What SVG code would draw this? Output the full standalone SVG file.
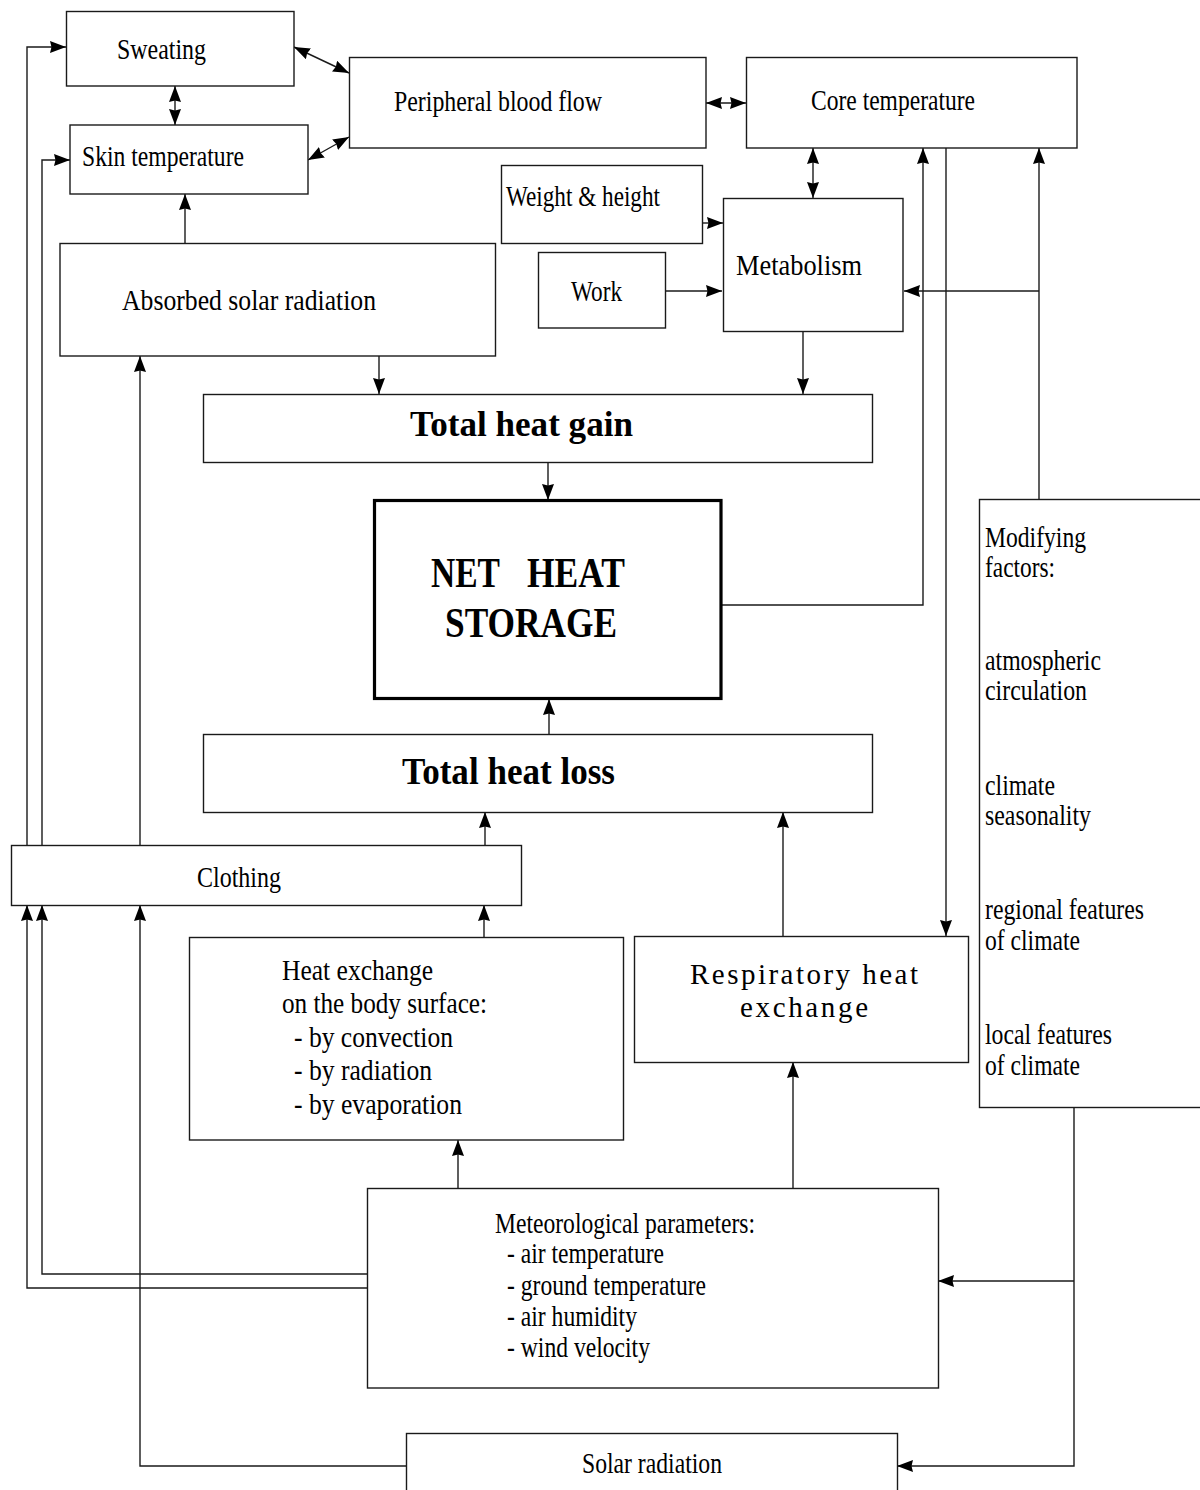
<svg xmlns="http://www.w3.org/2000/svg" width="1200" height="1490" viewBox="0 0 1200 1490">
<style>
.box{fill:#fff;stroke:#1a1a1a;stroke-width:1.4}
.thick{fill:#fff;stroke:#000;stroke-width:3.2}
.t{font-family:"Liberation Serif","Times New Roman",serif;font-size:29px;fill:#000}
.b{font-family:"Liberation Serif","Times New Roman",serif;font-weight:bold;fill:#000}
.c{fill:none;stroke:#1a1a1a;stroke-width:1.4}
</style>
<defs>
<marker id="ah" viewBox="0 0 16 12" refX="16" refY="6" markerWidth="16" markerHeight="12" markerUnits="userSpaceOnUse" orient="auto-start-reverse">
<path d="M0,0 L16,6 L0,12 L1.5,6 z" fill="#000"/>
</marker>
</defs>
<rect width="1200" height="1490" fill="#fff"/>

<g id="connectors">
<path class="c" d="M294,47 L349,73" marker-start="url(#ah)" marker-end="url(#ah)"/>
<path class="c" d="M175,86 L175,125" marker-start="url(#ah)" marker-end="url(#ah)"/>
<path class="c" d="M308,160 L349,137" marker-start="url(#ah)" marker-end="url(#ah)"/>
<path class="c" d="M706,103 L746,103" marker-start="url(#ah)" marker-end="url(#ah)"/>
<path class="c" d="M813,148 L813,198" marker-start="url(#ah)" marker-end="url(#ah)"/>
<path class="c" d="M702,223 L723,223" marker-end="url(#ah)"/>
<path class="c" d="M665,291 L722,291" marker-end="url(#ah)"/>
<path class="c" d="M1039,291 L904,291" marker-end="url(#ah)"/>
<path class="c" d="M1039,499 L1039,148" marker-end="url(#ah)"/>
<path class="c" d="M721,605 L923,605 L923,148" marker-end="url(#ah)"/>
<path class="c" d="M946,148 L946,936" marker-end="url(#ah)"/>
<path class="c" d="M185,243 L185,194" marker-end="url(#ah)"/>
<path class="c" d="M379,356 L379,394" marker-end="url(#ah)"/>
<path class="c" d="M803,331 L803,394" marker-end="url(#ah)"/>
<path class="c" d="M548,462 L548,500" marker-end="url(#ah)"/>
<path class="c" d="M549,734 L549,699" marker-end="url(#ah)"/>
<path class="c" d="M485,845 L485,812" marker-end="url(#ah)"/>
<path class="c" d="M783,936 L783,812" marker-end="url(#ah)"/>
<path class="c" d="M27,845 L27,47 L66,47" marker-end="url(#ah)"/>
<path class="c" d="M42,845 L42,160 L70,160" marker-end="url(#ah)"/>
<path class="c" d="M140,845 L140,356" marker-end="url(#ah)"/>
<path class="c" d="M484,937 L484,905" marker-end="url(#ah)"/>
<path class="c" d="M367,1274 L42,1274 L42,905" marker-end="url(#ah)"/>
<path class="c" d="M367,1288 L27,1288 L27,905" marker-end="url(#ah)"/>
<path class="c" d="M406,1466 L140,1466 L140,905" marker-end="url(#ah)"/>
<path class="c" d="M458,1188 L458,1140" marker-end="url(#ah)"/>
<path class="c" d="M793,1188 L793,1062" marker-end="url(#ah)"/>
<path class="c" d="M1074,1107 L1074,1466 L897,1466" marker-end="url(#ah)"/>
<path class="c" d="M1074,1281 L938,1281" marker-end="url(#ah)"/>
</g>

<g id="sweating"><rect class="box" x="66.5" y="11.5" width="227.5" height="74.5"/>
<text class="t" x="117" y="59" font-size="32" textLength="89" lengthAdjust="spacingAndGlyphs">Sweating</text></g>

<g id="skin-temperature"><rect class="box" x="70" y="125" width="238" height="69"/>
<text class="t" x="82" y="166" font-size="30" textLength="162" lengthAdjust="spacingAndGlyphs">Skin temperature</text></g>

<g id="peripheral-blood-flow"><rect class="box" x="349.5" y="57.5" width="356.5" height="90.5"/>
<text class="t" x="394" y="111" font-size="30" textLength="208" lengthAdjust="spacingAndGlyphs">Peripheral blood flow</text></g>

<g id="core-temperature"><rect class="box" x="746.5" y="57.5" width="330.5" height="90.5"/>
<text class="t" x="811" y="110" font-size="30" textLength="164" lengthAdjust="spacingAndGlyphs">Core temperature</text></g>

<g id="weight-height"><rect class="box" x="501.5" y="165.5" width="201" height="78"/>
<text class="t" x="506" y="206" font-size="29" textLength="154" lengthAdjust="spacingAndGlyphs">Weight &amp; height</text></g>

<g id="metabolism"><rect class="box" x="723.5" y="198.5" width="179.5" height="133"/>
<text class="t" x="736" y="275" font-size="33" textLength="126" lengthAdjust="spacingAndGlyphs">Metabolism</text></g>

<g id="work"><rect class="box" x="538.5" y="252.5" width="127" height="75.5"/>
<text class="t" x="571" y="301" font-size="29" textLength="51" lengthAdjust="spacingAndGlyphs">Work</text></g>

<g id="absorbed-solar-radiation"><rect class="box" x="60" y="243.5" width="435.5" height="112.5"/>
<text class="t" x="122" y="310" font-size="29" textLength="254" lengthAdjust="spacingAndGlyphs">Absorbed solar radiation</text></g>

<g id="total-heat-gain"><rect class="box" x="203.5" y="394.5" width="669" height="68"/>
<text class="b" x="410" y="436" font-size="36" textLength="223" lengthAdjust="spacingAndGlyphs">Total heat gain</text></g>

<g id="net-heat-storage"><rect class="thick" x="374.5" y="500.5" width="346.5" height="198"/>
<text class="b" y="587" font-size="43"><tspan x="431" textLength="69" lengthAdjust="spacingAndGlyphs">NET</tspan><tspan x="527" textLength="98" lengthAdjust="spacingAndGlyphs">HEAT</tspan></text>
<text class="b" x="445" y="637" font-size="43" textLength="172" lengthAdjust="spacingAndGlyphs">STORAGE</text></g>

<g id="total-heat-loss"><rect class="box" x="203.5" y="734.5" width="669" height="78"/>
<text class="b" x="402" y="784" font-size="37" textLength="213" lengthAdjust="spacingAndGlyphs">Total heat loss</text></g>

<g id="clothing"><rect class="box" x="11.5" y="845.5" width="510" height="60"/>
<text class="t" x="197" y="887" font-size="30" textLength="84" lengthAdjust="spacingAndGlyphs">Clothing</text></g>

<g id="heat-exchange"><rect class="box" x="189.5" y="937.5" width="434" height="202.5"/>
<text class="t" x="282" y="980" textLength="151" lengthAdjust="spacingAndGlyphs">Heat exchange</text>
<text class="t" x="282" y="1013" textLength="205" lengthAdjust="spacingAndGlyphs">on the body surface:</text>
<text class="t" x="294" y="1047" textLength="159" lengthAdjust="spacingAndGlyphs">- by convection</text>
<text class="t" x="294" y="1080" textLength="138" lengthAdjust="spacingAndGlyphs">- by radiation</text>
<text class="t" x="294" y="1114" textLength="168" lengthAdjust="spacingAndGlyphs">- by evaporation</text></g>

<g id="respiratory-heat-exchange"><rect class="box" x="634.5" y="936.5" width="334" height="126"/>
<text class="t" x="690" y="984" font-size="29" textLength="228" lengthAdjust="spacing">Respiratory heat</text>
<text class="t" x="740" y="1017" font-size="29" textLength="128" lengthAdjust="spacing">exchange</text></g>

<g id="modifying-factors"><rect class="box" x="979.5" y="499.5" width="240" height="608"/>
<text class="t" x="985" y="547" textLength="101" lengthAdjust="spacingAndGlyphs">Modifying</text>
<text class="t" x="985" y="577" textLength="70" lengthAdjust="spacingAndGlyphs">factors:</text>
<text class="t" x="985" y="670" textLength="116" lengthAdjust="spacingAndGlyphs">atmospheric</text>
<text class="t" x="985" y="700" textLength="102" lengthAdjust="spacingAndGlyphs">circulation</text>
<text class="t" x="985" y="795" textLength="70" lengthAdjust="spacingAndGlyphs">climate</text>
<text class="t" x="985" y="825" textLength="106" lengthAdjust="spacingAndGlyphs">seasonality</text>
<text class="t" x="985" y="919" textLength="159" lengthAdjust="spacingAndGlyphs">regional features</text>
<text class="t" x="985" y="950" textLength="95" lengthAdjust="spacingAndGlyphs">of climate</text>
<text class="t" x="985" y="1044" textLength="127" lengthAdjust="spacingAndGlyphs">local features</text>
<text class="t" x="985" y="1075" textLength="95" lengthAdjust="spacingAndGlyphs">of climate</text></g>

<g id="meteorological-parameters"><rect class="box" x="367.5" y="1188.5" width="571" height="199.5"/>
<text class="t" x="495" y="1233" textLength="260" lengthAdjust="spacingAndGlyphs">Meteorological parameters:</text>
<text class="t" x="507" y="1263" textLength="157" lengthAdjust="spacingAndGlyphs">- air temperature</text>
<text class="t" x="507" y="1295" textLength="199" lengthAdjust="spacingAndGlyphs">- ground temperature</text>
<text class="t" x="507" y="1326" textLength="130" lengthAdjust="spacingAndGlyphs">- air humidity</text>
<text class="t" x="507" y="1357" textLength="143" lengthAdjust="spacingAndGlyphs">- wind velocity</text></g>

<g id="solar-radiation"><rect class="box" x="406.5" y="1433.5" width="491" height="80"/>
<text class="t" x="582" y="1473" textLength="140" lengthAdjust="spacingAndGlyphs">Solar radiation</text></g>
</svg>
